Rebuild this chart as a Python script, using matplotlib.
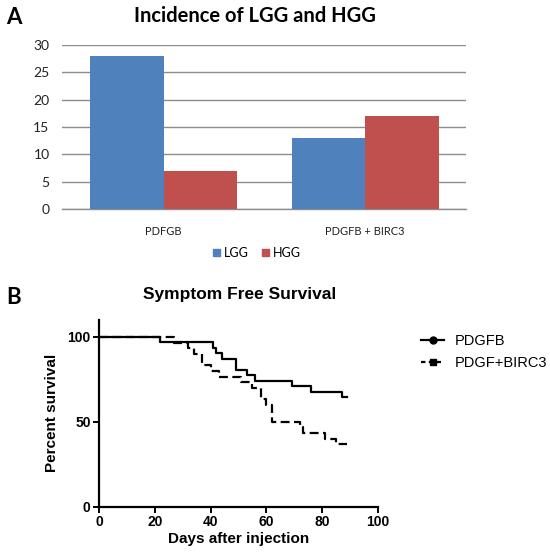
import matplotlib.pyplot as plt
from matplotlib.patches import Patch
from matplotlib.lines import Line2D

# Panel A data
groups = ['PDFGB', 'PDGFB + BIRC3']
lgg = [28, 13]
hgg = [7, 17]

# Panel B data (Kaplan-Meier steps)
pdgfb_days = [0, 22, 41, 42, 44, 49, 53, 56, 69, 76, 87, 89]
pdgfb_surv = [100, 96.8, 93.5, 90.3, 87.1, 80.6, 77.4, 74.2, 71.0, 67.7, 64.5, 64.5]
birc3_days = [0, 27, 32, 34, 37, 40, 43, 51, 55, 58, 60, 62, 72, 73, 81, 85, 89]
birc3_surv = [100, 96.7, 93.3, 90.0, 83.3, 80.0, 76.7, 73.3, 70.0, 63.3, 60.0, 50.0,
              46.7, 43.3, 40.0, 36.7, 36.7]

W, H = 550, 559
fig = plt.figure(figsize=(W / 100, H / 100), dpi=100)

def box(l, t, r, b):
    return [l / W, 1 - b / H, (r - l) / W, (b - t) / H]

# ---- Panel A ----
excel = 'Lato'
blue, red = '#4F81BD', '#C0504D'
ax1 = fig.add_axes(box(62, 45, 466, 209))
w = 0.365
x = [0, 1]
ax1.bar([i - w / 2 for i in x], lgg, width=w, color=blue, zorder=3)
ax1.bar([i + w / 2 for i in x], hgg, width=w, color=red, zorder=3)
ax1.set_xlim(-0.504, 1.5)
ax1.set_ylim(0, 30)
ax1.set_yticks(range(0, 31, 5))
ax1.yaxis.grid(True, color='#8C8C8C', linewidth=1, zorder=0)
for s in ['top', 'right', 'left']:
    ax1.spines[s].set_visible(False)
ax1.spines['bottom'].set_color('#8C8C8C')
ax1.spines['bottom'].set_linewidth(1)
ax1.tick_params(axis='y', length=0, labelsize=10, colors='#222222', pad=9)
ax1.tick_params(axis='x', length=0, labelsize=8, colors='#222222', pad=12)
ax1.set_xticks(x)
ax1.set_xticklabels(groups, family=excel)
for lab in ax1.get_yticklabels():
    lab.set_family(excel)
fig.text(255 / W, 1 - 16 / H, 'Incidence of LGG and HGG', ha='center', va='center',
         fontsize=14.5, fontweight='bold', family=excel)
fig.text(6 / W, 1 - 17 / H, 'A', ha='left', va='center', fontsize=16,
         fontweight='bold', family=excel)
fig.legend(handles=[Patch(color=blue, label='LGG'), Patch(color=red, label='HGG')],
           loc='center', bbox_to_anchor=(257 / W, 1 - 253 / H), ncol=2, frameon=False,
           handlelength=0.55, handleheight=0.55, handletextpad=0.3, columnspacing=1.1,
           prop={'family': excel, 'size': 9})

# ---- Panel B ----
arial = 'Liberation Sans'
ax2 = fig.add_axes(box(99, 320, 378, 506.7))
ax2.step(pdgfb_days, pdgfb_surv, where='post', color='black', lw=1.6)
ax2.step(birc3_days, birc3_surv, where='post', color='black', lw=1.6,
         linestyle=(0, (4, 2)))
ax2.set_xlim(0, 100)
ax2.set_ylim(0, 110)
ax2.set_xticks(range(0, 101, 20))
ax2.set_yticks([0, 50, 100])
for s in ['top', 'right']:
    ax2.spines[s].set_visible(False)
for s in ['left', 'bottom']:
    ax2.spines[s].set_linewidth(1.6)
ax2.tick_params(direction='out', length=4, width=1.4, labelsize=10, pad=2)
for lab in ax2.get_xticklabels() + ax2.get_yticklabels():
    lab.set_family(arial)
    lab.set_fontweight('bold')
ax2.set_xlabel('Days after injection', fontsize=11, fontweight='bold', family=arial,
               labelpad=2)
ax2.set_ylabel('Percent survival', fontsize=11, fontweight='bold', family=arial,
               labelpad=6)
fig.text(240 / W, 1 - 294 / H, 'Symptom Free Survival', ha='center', va='center',
         fontsize=12.5, fontweight='bold', family=arial)
fig.text(6 / W, 1 - 298 / H, 'B', ha='left', va='center', fontsize=16,
         fontweight='bold', family=excel)
handles = [Line2D([], [], color='black', lw=1.6, marker='o', markersize=5),
           Line2D([], [], color='black', lw=1.6, linestyle=(0, (2, 1.5)), marker='s',
                  markersize=5)]
fig.legend(handles, ['PDGFB', 'PDGF+BIRC3'], loc='upper left',
           bbox_to_anchor=(408 / W, 1 - 321 / H), frameon=False, handlelength=1.6,
           handletextpad=0.7, labelspacing=0.55, prop={'family': arial, 'size': 10.5})

fig.savefig('out.png', dpi=100)
